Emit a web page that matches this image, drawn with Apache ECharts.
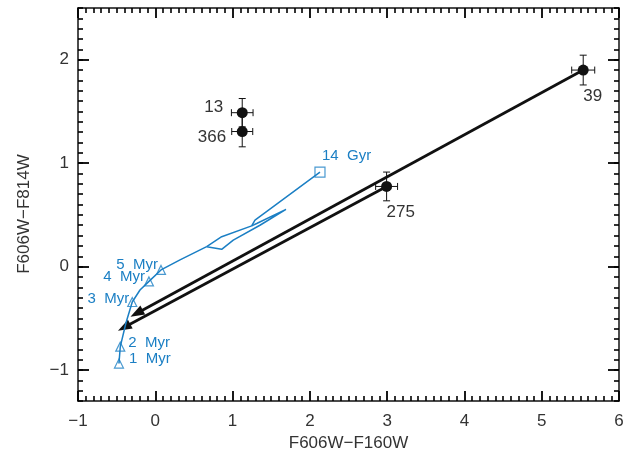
<!DOCTYPE html>
<html lang="en">
<head>
    <meta charset="UTF-8">
    <title>Colour-colour diagram</title>
    <script src="https://cdn.jsdelivr.net/npm/echarts@6/dist/echarts.min.js"></script>
    <style>
        html, body { margin: 0; padding: 0; background: #fff; }
        #main { width: 632px; height: 457px; }
    </style>
</head>
<body>
<div id="main"></div>
<script type="text/javascript">

    // sources with error bars
    var starNames = ['13', '366', '275', '39'];
    var starX = [1.125, 1.125, 2.993, 5.537];
    var starY = [1.488, 1.306, 0.775, 1.900];
    var starXErr = [0.14, 0.136, 0.142, 0.149];
    var starYErr = [0.137, 0.148, 0.139, 0.144];

    // reddening arrows (start -> tip)
    var arrowFromX = [5.537, 2.993];
    var arrowFromY = [1.900, 0.775];
    var arrowToX = [-0.321, -0.483];
    var arrowToY = [-0.484, -0.620];

    // model track
    var trackX = [-0.470, -0.453, -0.379, -0.298, -0.198, -0.082, 0.074, 0.320, 0.665, 0.859, 1.009, 1.354, 1.691, 1.312, 1.247, 0.859, 0.665];
    var trackY = [-0.937, -0.774, -0.543, -0.342, -0.226, -0.143, -0.032, 0.065, 0.193, 0.167, 0.256, 0.400, 0.554, 0.417, 0.394, 0.289, 0.193];
    var tailX = [1.247, 1.290, 2.131];
    var tailY = [0.394, 0.450, 0.913];

    // ages marked on the track
    var ageNames = ['1  Myr', '2  Myr', '3  Myr', '4  Myr', '5  Myr', '14  Gyr'];
    var ageX = [-0.470, -0.453, -0.298, -0.082, 0.074, 2.131];
    var ageY = [-0.937, -0.774, -0.342, -0.143, -0.032, 0.913];

    var majorTicks = [-1, 0, 1, 2];

    // label placement, pixels from the mark
    var starLabelPos = [[-19, -5, 'right'], [-16, 6, 'right'], [0, 26, 'left'], [0, 26, 'left']];
    var ageLabelPos = [[10, -5, 'left'], [8, -4, 'left'], [-3, -3, 'right'], [-4, -5, 'right'], [-3, -5, 'right'], [2, -16, 'left']];

    var blue = '#1b7fc4';
    var ink = '#111';
    var tickInk = '#000';
    var font = 'Liberation Sans';

    function minus(v) {
        return v < 0 ? '\u2212' + Math.abs(v) : '' + v;
    }

    var track = [], tail = [], ages = [], stars = [], errs = [], arrows = [];
    for (var i = 0; i < trackX.length; i++) track.push([trackX[i], trackY[i]]);
    for (var i = 0; i < tailX.length; i++) tail.push([tailX[i], tailY[i]]);
    for (var i = 0; i < ageX.length; i++) {
        ages.push({value: [ageX[i], ageY[i]], symbol: i == ageX.length - 1 ? 'rect' : 'triangle',
                   symbolSize: i == ageX.length - 1 ? 10 : [9, 9]});
    }
    for (var i = 0; i < starX.length; i++) {
        stars.push([starX[i], starY[i]]);
        errs.push([starX[i], starY[i], starXErr[i], starYErr[i]]);
    }
    for (var i = 0; i < arrowFromX.length; i++) {
        arrows.push([arrowFromX[i], arrowFromY[i], arrowToX[i], arrowToY[i]]);
    }

    function xAxisOf(pos, labels) {
        return {
            type: 'value', min: -1, max: 6, interval: 1, position: pos,
            name: labels ? 'F606W\u2212F160W' : '', nameLocation: 'middle', nameGap: 27,
            nameTextStyle: {fontFamily: font, fontSize: 17, color: '#333'},
            axisLine: {onZero: false, lineStyle: {color: ink, width: 1.5}},
            axisTick: {show: true, inside: true, length: 10, lineStyle: {color: tickInk, width: 1.8}},
            minorTick: {show: true, splitNumber: 10, length: 5, lineStyle: {color: tickInk, width: 1.6}},
            axisLabel: {show: labels, margin: 12, fontFamily: font, fontSize: 17, color: '#333', formatter: minus},
            splitLine: {show: false}, minorSplitLine: {show: false}
        };
    }

    function yAxisOf(pos, labels) {
        return {
            type: 'value', min: -1.3, max: 2.5, position: pos,
            name: labels ? 'F606W\u2212F814W' : '', nameLocation: 'middle', nameGap: 45,
            nameTextStyle: {fontFamily: font, fontSize: 17, color: '#333', padding: [0, 19, 0, 0]},
            axisLine: {onZero: false, lineStyle: {color: ink, width: 1.5}},
            axisTick: {show: true, inside: true, length: 11, customValues: majorTicks, lineStyle: {color: tickInk, width: 1.8}},
            axisLabel: {show: labels, customValues: majorTicks, margin: 9, fontFamily: font, fontSize: 17, color: '#333', formatter: minus},
            splitLine: {show: false}
        };
    }

    function yMinorOf(pos) {
        return {
            type: 'value', min: -1.3, max: 2.5, interval: 0.1, position: pos,
            axisLine: {show: false, onZero: false},
            axisTick: {show: true, inside: true, length: 5, lineStyle: {color: tickInk, width: 1.6}},
            axisLabel: {show: false},
            splitLine: {show: false}
        };
    }

    var myChart = echarts.init(document.getElementById('main'));

    var option = {
        animation: false,
        backgroundColor: '#fff',
        grid: {left: 78, right: 13, top: 8, bottom: 54},
        xAxis: [xAxisOf('bottom', true), xAxisOf('top', false)],
        yAxis: [yAxisOf('left', true), yAxisOf('right', false), yMinorOf('left'), yMinorOf('right')],
        series: [
            {
                // arrows
                type: 'custom', z: 3, data: arrows,
                encode: {x: [0, 2], y: [1, 3]},
                renderItem: function (params, api) {
                    var p1 = api.coord([api.value(0), api.value(1)]);
                    var p2 = api.coord([api.value(2), api.value(3)]);
                    var dx = p2[0] - p1[0], dy = p2[1] - p1[1];
                    var len = Math.sqrt(dx * dx + dy * dy);
                    var ux = dx / len, uy = dy / len;
                    var hl = 14, hw = 5;
                    var bx = p2[0] - ux * hl, by = p2[1] - uy * hl;
                    return {
                        type: 'group',
                        children: [
                            {type: 'line', shape: {x1: p1[0], y1: p1[1], x2: bx + ux * 2, y2: by + uy * 2},
                             style: {stroke: ink, lineWidth: 2.8}},
                            {type: 'polygon', shape: {points: [[p2[0], p2[1]], [bx - uy * hw, by + ux * hw], [bx + uy * hw, by - ux * hw]]},
                             style: {fill: ink}}
                        ]
                    };
                }
            },
            {
                type: 'line', z: 4, data: track, symbol: 'none',
                lineStyle: {color: blue, width: 1.5}
            },
            {
                type: 'line', z: 4, data: tail, symbol: 'none',
                lineStyle: {color: blue, width: 1.5}
            },
            {
                type: 'scatter', z: 5, data: ages,
                itemStyle: {color: 'rgba(0,0,0,0)', borderColor: blue, borderWidth: 1.2}
            },
            {
                // error bars
                type: 'custom', z: 6, data: errs,
                renderItem: function (params, api) {
                    var x = api.value(0), y = api.value(1), ex = api.value(2), ey = api.value(3);
                    var l = api.coord([x - ex, y]), r = api.coord([x + ex, y]);
                    var t = api.coord([x, y + ey]), b = api.coord([x, y - ey]);
                    var c = 3.5;
                    var st = {stroke: ink, lineWidth: 1};
                    return {
                        type: 'group',
                        children: [
                            {type: 'line', shape: {x1: l[0], y1: l[1], x2: r[0], y2: r[1]}, style: st},
                            {type: 'line', shape: {x1: l[0], y1: l[1] - c, x2: l[0], y2: l[1] + c}, style: st},
                            {type: 'line', shape: {x1: r[0], y1: r[1] - c, x2: r[0], y2: r[1] + c}, style: st},
                            {type: 'line', shape: {x1: t[0], y1: t[1], x2: b[0], y2: b[1]}, style: st},
                            {type: 'line', shape: {x1: t[0] - c, y1: t[1], x2: t[0] + c, y2: t[1]}, style: st},
                            {type: 'line', shape: {x1: b[0] - c, y1: b[1], x2: b[0] + c, y2: b[1]}, style: st}
                        ]
                    };
                }
            },
            {
                type: 'scatter', z: 7, data: stars, symbol: 'circle', symbolSize: 11,
                itemStyle: {color: ink, opacity: 1}
            },
            {
                // labels of sources
                type: 'custom', z: 8, data: stars,
                renderItem: function (params, api) {
                    var p = api.coord([api.value(0), api.value(1)]);
                    var o = starLabelPos[params.dataIndex];
                    return {type: 'text', x: p[0] + o[0], y: p[1] + o[1],
                            style: {text: starNames[params.dataIndex], align: o[2], verticalAlign: 'middle',
                                    font: '17px "' + font + '"', fill: '#333'}};
                }
            },
            {
                // labels of ages
                type: 'custom', z: 8, data: ages.map(function (d) { return d.value; }),
                renderItem: function (params, api) {
                    var p = api.coord([api.value(0), api.value(1)]);
                    var o = ageLabelPos[params.dataIndex];
                    return {type: 'text', x: p[0] + o[0], y: p[1] + o[1],
                            style: {text: ageNames[params.dataIndex], align: o[2], verticalAlign: 'middle',
                                    font: '15px "' + font + '"', fill: blue}};
                }
            }
        ]
    };

    myChart.setOption(option);
</script>
</body>
</html>
